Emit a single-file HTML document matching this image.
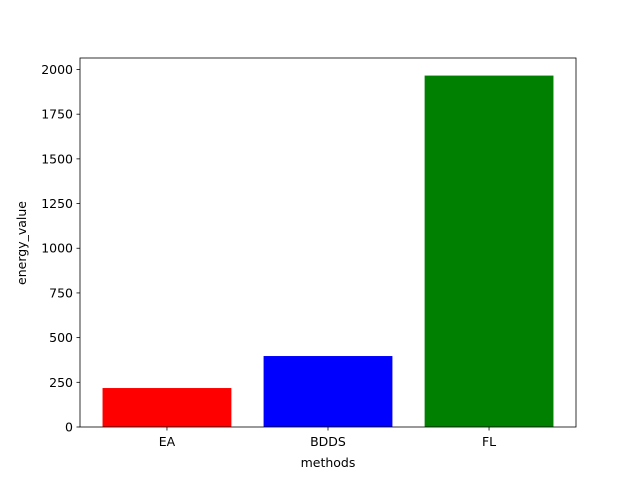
<!DOCTYPE html>
<html><head><meta charset="utf-8"><style>body{margin:0;background:#fff}svg{display:block}text{font-family:"DejaVu Sans","Liberation Sans",sans-serif;font-size:12.5px;fill:#000}</style></head>
<body>
<svg id="chart" width="640" height="480">
<rect width="640" height="480" fill="#fff"/>
<g id="plot"></g>
<text x="328" y="467" text-anchor="middle">methods</text>
<text transform="translate(26,243) rotate(-90)" text-anchor="middle">energy_value</text>
</svg>
<script>
const categories = ["EA", "BDDS", "FL"];
const values = [218, 397, 1966];
const colors = ["red", "blue", "green"];
const yTicks = [0, 250, 500, 750, 1000, 1250, 1500, 1750, 2000];

const L = 80, R = 576, T = 58, B = 427;
const ymax = Math.max(...values) * 1.05;
const xmin = -0.54, xmax = categories.length - 1 + 0.54;
const x = v => L + (v - xmin) / (xmax - xmin) * (R - L);
const y = v => B - v / ymax * (B - T);
const ns = "http://www.w3.org/2000/svg";
const g = document.getElementById("plot");
function mk(tag, attrs) { const e = document.createElementNS(ns, tag); for (const k in attrs) e.setAttribute(k, attrs[k]); g.appendChild(e); return e; }

values.forEach((v, i) => {
  const r = mk("rect", { x: x(i - 0.4), y: y(v), width: x(i + 0.4) - x(i - 0.4), height: B - y(v), fill: colors[i] });
  
  
  const t = mk("line", { x1: x(i), x2: x(i), y1: B, y2: B + 3.5, stroke: "#000", "stroke-width": 0.8 });
  
  
  const lb = mk("text", { x: x(i), y: B + 19, "text-anchor": "middle" });
  lb.textContent = categories[i];
  
  
});
yTicks.forEach(v => {
  const t = mk("line", { x1: L - 3.5, x2: L, y1: y(v), y2: y(v), stroke: "#000", "stroke-width": 0.8 });
  
  
  const lb = mk("text", { x: L - 7, y: y(v) + 4.5, "text-anchor": "end" });
  lb.textContent = v;
  
  
});
const frame = mk("rect", { x: L, y: T, width: R - L, height: B - T, fill: "none", stroke: "#000", "stroke-width": 0.8 });


</script>
</body></html>
